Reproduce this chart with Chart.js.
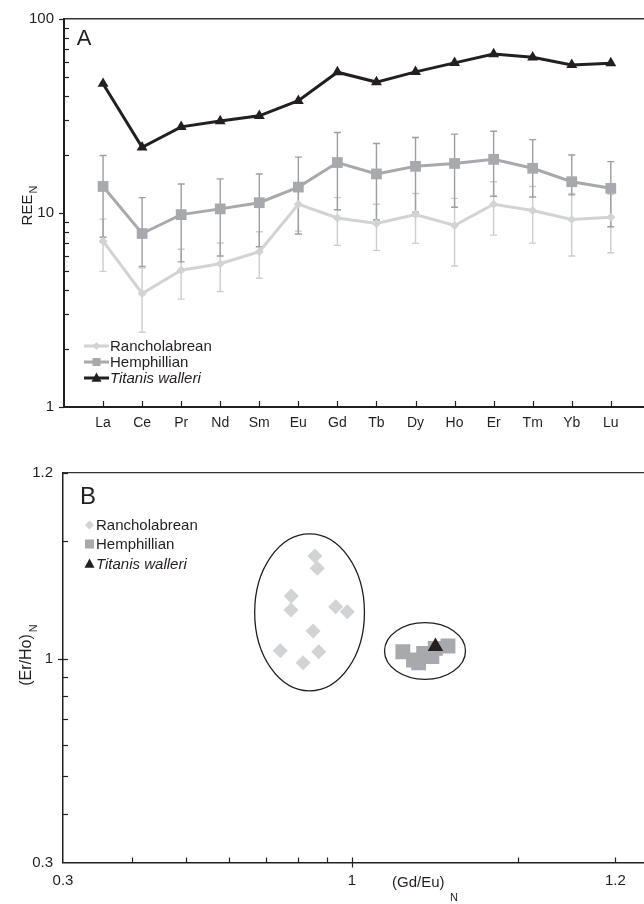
<!DOCTYPE html>
<html><head><meta charset="utf-8">
<script src="https://cdn.jsdelivr.net/npm/chart.js@4.4.1/dist/chart.umd.min.js"></script>
<style>
html,body{margin:0;padding:0;background:#fff;overflow:hidden;width:644px;height:904px}
#wa{position:absolute;left:0;top:0;width:644px;height:440px}
#wb{position:absolute;left:0;top:440px;width:644px;height:464px}
canvas{display:block}
</style></head><body>
<div id="wa"><canvas id="ca" width="644" height="440" style="width:644px;height:440px"></canvas></div>
<div id="wb"><canvas id="cb" width="644" height="464" style="width:644px;height:464px"></canvas></div>
<script>
// ---------- Panel A data ----------
const categories = ['La','Ce','Pr','Nd','Sm','Eu','Gd','Tb','Dy','Ho','Er','Tm','Yb','Lu'];
const titanis   = [46.4,21.8,27.8,29.8,31.7,37.9,53.2,47.3,53.4,59.4,66.0,63.5,58.0,59.2];
const hemph     = [13.7,7.84,9.81,10.5,11.3,13.6,18.2,15.9,17.4,18.0,18.9,17.0,14.5,13.4];
const hemphHigh = [19.8,12.0,14.1,15.0,15.9,19.4,26.0,22.8,24.5,25.5,26.4,23.9,19.9,18.4];
const hemphLow  = [7.5,5.3,5.6,6.0,6.7,7.8,10.4,9.2,10.1,10.7,12.2,12.1,12.4,8.5];
const ranch     = [7.16,3.85,5.07,5.48,6.31,11.1,9.43,8.83,9.81,8.62,11.1,10.3,9.25,9.5];
const ranchHigh = [9.3,5.2,6.5,7.0,8.0,14.0,12.0,11.1,12.6,11.9,14.5,13.7,12.6,12.5];
const ranchLow  = [5.0,2.43,3.6,3.94,4.61,8.06,6.81,6.42,6.97,5.33,7.69,6.99,6.0,6.24];
const aYTicks = [1,10,100];
const aYMinor = [2,3,4,5,6,7,8,9,20,30,40,50,60,70,80,90];

// ---------- Panel B data ----------
const ranchGdEu = [0.857,0.866,0.777,0.776,0.935,0.981,0.851,0.742,0.871,0.816];
const ranchErHo = [1.834,1.706,1.448,1.333,1.359,1.320,1.178,1.048,1.042,0.976];
const hemphGdEu = [1.237,1.293,1.349,1.321,1.396,1.416,1.493];
const hemphErHo = [1.042,0.992,1.032,0.976,1.012,1.063,1.078];
const titanisGdEu = [1.417];
const titanisErHo = [1.075];
const bTickValues = [0.3,1,3];
const bTickLabels = ['0.3','1','1.2'];
const bMinor = [0.4,0.5,0.6,0.7,0.8,0.9,2];
const ellipseXMin = [0.667,1.146];
const ellipseXMax = [1.054,1.606];
const ellipseYMin = [0.827,0.885];
const ellipseYMax = [2.089,1.237];

const FONT = '"Liberation Sans", Arial, Helvetica, sans-serif';
const INK = '#231f20';
const C_RANCH = '#d1d3d4';
const C_HEMPH = '#a7a9ac';
const C_RANCH_BAR = '#cbcdcf';
const C_HEMPH_BAR = '#9c9ea1';

function shape(ctx, kind, x, y, s, color){
  ctx.save(); ctx.fillStyle=color; ctx.beginPath();
  if(kind==='diamond'){ ctx.moveTo(x,y-s); ctx.lineTo(x+s,y); ctx.lineTo(x,y+s); ctx.lineTo(x-s,y); }
  else if(kind==='square'){ ctx.rect(x-s,y-s,2*s,2*s); }
  else { ctx.moveTo(x,y-s*1.1); ctx.lineTo(x+s,y+s*0.75); ctx.lineTo(x-s,y+s*0.75); }
  ctx.closePath(); ctx.fill(); ctx.restore();
}

function tickMarks(specs){
  return { id:'tickMarks', afterDraw(chart){
    const ctx=chart.ctx, a=chart.chartArea;
    ctx.save(); ctx.strokeStyle=INK; ctx.lineWidth=1.2;
    specs.forEach(s=>{
      const sc=chart.scales[s.scale];
      s.values.forEach(v=>{
        const p=Math.round(sc.getPixelForValue(v))+0.5;
        ctx.beginPath();
        if(s.scale==='y'){ ctx.moveTo(a.left - s.out, p); ctx.lineTo(a.left + s.in, p); }
        else { ctx.moveTo(p, a.bottom + s.out); ctx.lineTo(p, a.bottom - s.in); }
        ctx.stroke();
      });
    });
    ctx.restore();
  }};
}

const errorBars = { id:'errorBars', beforeDatasetsDraw(chart){
  const ctx=chart.ctx, xs=chart.scales.x, ys=chart.scales.y;
  const sets=[{lo:ranchLow,hi:ranchHigh,color:C_RANCH_BAR},{lo:hemphLow,hi:hemphHigh,color:C_HEMPH_BAR}];
  ctx.save(); ctx.lineWidth=1.4;
  sets.forEach(s=>{
    ctx.strokeStyle=s.color;
    categories.forEach((c,i)=>{
      const x=xs.getPixelForValue(i), y1=ys.getPixelForValue(s.lo[i]), y2=ys.getPixelForValue(s.hi[i]);
      ctx.beginPath();
      ctx.moveTo(x,y1); ctx.lineTo(x,y2);
      ctx.moveTo(x-3.5,y1); ctx.lineTo(x+3.5,y1);
      ctx.moveTo(x-3.5,y2); ctx.lineTo(x+3.5,y2);
      ctx.stroke();
    });
  });
  ctx.restore();
}};

const decorA = { id:'decorA', afterDraw(chart){
  const ctx=chart.ctx;
  ctx.save();
  ctx.fillStyle=INK; ctx.textAlign='center'; ctx.textBaseline='middle';
  ctx.font='22px '+FONT; ctx.fillText('A',84,39);
  const rows=[
    {label:'Rancholabrean',color:C_RANCH,kind:'diamond',s:4,y:346,italic:false},
    {label:'Hemphillian',color:C_HEMPH,kind:'square',s:4,y:362,italic:false},
    {label:'Titanis walleri',color:INK,kind:'triangle',s:5,y:378,italic:true}];
  rows.forEach(r=>{
    ctx.strokeStyle=r.color; ctx.lineWidth=3;
    ctx.beginPath(); ctx.moveTo(84,r.y); ctx.lineTo(109,r.y); ctx.stroke();
    shape(ctx,r.kind,96.5,r.y,r.s,r.color);
    ctx.fillStyle=INK; ctx.textAlign='left'; ctx.textBaseline='middle';
    ctx.font=(r.italic?'italic ':'')+'15px '+FONT;
    ctx.fillText(r.label,110,r.y+1);
  });
  ctx.translate(27,206); ctx.rotate(-Math.PI/2);
  ctx.font='15px '+FONT; ctx.textAlign='left'; ctx.textBaseline='alphabetic';
  const w=ctx.measureText('REE').width;
  ctx.fillText('REE',-w/2-4,5);
  ctx.font='11px '+FONT; ctx.fillText('N',w/2-3,10);
  ctx.restore();
}};

const decorB = { id:'decorB', beforeDatasetsDraw(chart){
  const ctx=chart.ctx, xs=chart.scales.x, ys=chart.scales.y;
  ctx.save(); ctx.strokeStyle=INK; ctx.lineWidth=1.3;
  ellipseXMin.forEach((v,i)=>{
    const x1=xs.getPixelForValue(ellipseXMin[i]), x2=xs.getPixelForValue(ellipseXMax[i]);
    const y1=ys.getPixelForValue(ellipseYMax[i]), y2=ys.getPixelForValue(ellipseYMin[i]);
    ctx.beginPath(); ctx.ellipse((x1+x2)/2,(y1+y2)/2,(x2-x1)/2,(y2-y1)/2,0,0,Math.PI*2); ctx.stroke();
  });
  ctx.restore();
}, afterDraw(chart){
  const ctx=chart.ctx;
  ctx.save();
  ctx.fillStyle=INK; ctx.textAlign='center'; ctx.textBaseline='middle';
  ctx.font='24px '+FONT; ctx.fillText('B',88,57);
  const rows=[
    {label:'Rancholabrean',color:C_RANCH,kind:'diamond',s:4.5,y:85,italic:false},
    {label:'Hemphillian',color:C_HEMPH,kind:'square',s:4.5,y:104,italic:false},
    {label:'Titanis walleri',color:INK,kind:'triangle',s:5,y:124,italic:true}];
  rows.forEach(r=>{
    shape(ctx,r.kind,89.5,r.y,r.s,r.color);
    ctx.fillStyle=INK; ctx.textAlign='left'; ctx.textBaseline='middle';
    ctx.font=(r.italic?'italic ':'')+'15px '+FONT;
    ctx.fillText(r.label,96,r.y+1);
  });
  ctx.textBaseline='alphabetic';
  ctx.font='15px '+FONT; ctx.fillText('(Gd/Eu)',392,447);
  ctx.font='11px '+FONT; ctx.fillText('N',450,461);
  ctx.restore();
  ctx.save();
  ctx.fillStyle=INK;
  ctx.translate(26,216); ctx.rotate(-Math.PI/2);
  ctx.font='16px '+FONT; ctx.textAlign='left'; ctx.textBaseline='alphabetic';
  const w=ctx.measureText('(Er/Ho)').width;
  ctx.fillText('(Er/Ho)',-w/2-4,5);
  ctx.font='11px '+FONT; ctx.fillText('N',w/2-2,11);
  ctx.restore();
}};

const pointsA = arr => arr.map((v,i)=>({x:i,y:v}));

new Chart(document.getElementById('ca'), {
  type:'line',
  data:{ datasets:[
    {label:'Titanis walleri', data:pointsA(titanis), borderColor:INK, backgroundColor:INK, borderWidth:3,
     pointStyle:'triangle', pointRadius:6.3, pointBorderWidth:0, tension:0},
    {label:'Hemphillian', data:pointsA(hemph), borderColor:C_HEMPH, backgroundColor:C_HEMPH, borderWidth:3,
     pointStyle:'rect', pointRadius:7.6, pointBorderWidth:0, tension:0},
    {label:'Rancholabrean', data:pointsA(ranch), borderColor:C_RANCH, backgroundColor:C_RANCH, borderWidth:3,
     pointStyle:'rectRot', pointRadius:4.5, pointBorderWidth:0, tension:0}
  ]},
  options:{
    responsive:false, animation:false, devicePixelRatio:1,
    layout:{autoPadding:false, padding:{top:16,right:0,left:0,bottom:0}},
    plugins:{legend:{display:false}, tooltip:{enabled:false}},
    scales:{
      x:{type:'linear', position:'bottom', min:-1, max:13.85,
        afterBuildTicks:s=>{ s.ticks = categories.map((c,i)=>({value:i})); },
        ticks:{callback:v=>categories[v], font:{size:14,family:FONT}, color:INK, padding:8, autoSkip:false, maxRotation:0},
        grid:{display:false, drawTicks:false}, border:{display:true,color:INK,width:2},
        afterFit:s=>{ s.height=33; }},
      xTop:{type:'linear', position:'top', min:-1, max:13.85,
        ticks:{display:false}, grid:{display:false, drawTicks:false}, border:{display:true,color:'#333333',width:1.5},
        afterFit:s=>{ s.height=0; }},
      y:{type:'logarithmic', position:'left', min:1, max:100,
        afterBuildTicks:s=>{ s.ticks = aYTicks.map(v=>({value:v})); },
        ticks:{callback:v=>String(v), font:{size:15,family:FONT}, color:INK, padding:10},
        grid:{display:false, drawTicks:false}, border:{display:true,color:INK,width:2},
        afterFit:s=>{ s.width=64; }}
    }
  },
  plugins:[errorBars, tickMarks([
    {scale:'y', values:aYTicks, out:5, in:0},
    {scale:'y', values:aYMinor, out:0, in:5},
    {scale:'x', values:categories.map((c,i)=>i), out:0, in:6}
  ]), decorA]
});

const pts = (xs,ys)=>xs.map((v,i)=>({x:v,y:ys[i]}));

new Chart(document.getElementById('cb'), {
  type:'scatter',
  data:{ datasets:[
    {label:'Titanis walleri', data:pts(titanisGdEu,titanisErHo), backgroundColor:INK, pointStyle:'triangle', pointRadius:9, pointBorderWidth:0},
    {label:'Hemphillian', data:pts(hemphGdEu,hemphErHo), backgroundColor:C_HEMPH, pointStyle:'rect', pointRadius:10.5, pointBorderWidth:0},
    {label:'Rancholabrean', data:pts(ranchGdEu,ranchErHo), backgroundColor:C_RANCH, pointStyle:'rectRot', pointRadius:7.5, pointBorderWidth:0}
  ]},
  options:{
    responsive:false, animation:false, devicePixelRatio:1,
    layout:{autoPadding:false, padding:{top:32.7,right:0,left:0,bottom:0}},
    plugins:{legend:{display:false}, tooltip:{enabled:false}},
    scales:{
      x:{type:'logarithmic', position:'bottom', min:0.3, max:3.38,
        afterBuildTicks:s=>{ s.ticks = bTickValues.map(v=>({value:v})); },
        ticks:{callback:(v)=>bTickLabels[bTickValues.indexOf(v)], font:{size:15,family:FONT}, color:INK, padding:9, autoSkip:false, maxRotation:0},
        grid:{display:false, drawTicks:false}, border:{display:true,color:INK,width:1.5},
        afterFit:s=>{ s.height=41.5; }},
      xTop:{type:'logarithmic', position:'top', min:0.3, max:3.38,
        ticks:{display:false}, grid:{display:false, drawTicks:false}, border:{display:true,color:'#333333',width:1.3},
        afterFit:s=>{ s.height=0; }},
      y:{type:'logarithmic', position:'left', min:0.3, max:3,
        afterBuildTicks:s=>{ s.ticks = bTickValues.map(v=>({value:v})); },
        ticks:{callback:(v)=>bTickLabels[bTickValues.indexOf(v)], font:{size:15,family:FONT}, color:INK, padding:10},
        grid:{display:false, drawTicks:false}, border:{display:true,color:INK,width:1.5},
        afterFit:s=>{ s.width=63; }}
    }
  },
  plugins:[decorB, tickMarks([
    {scale:'y', values:[3], out:0, in:5},
    {scale:'y', values:[1], out:5, in:5},
    {scale:'y', values:bMinor, out:0, in:5},
    {scale:'x', values:[3], out:0, in:5},
    {scale:'x', values:[1], out:5, in:5},
    {scale:'x', values:bMinor, out:0, in:5}
  ])]
});
</script>
</body></html>
